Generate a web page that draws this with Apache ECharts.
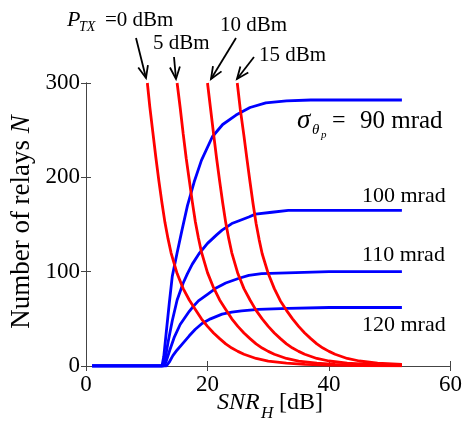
<!DOCTYPE html>
<html>
<head>
<meta charset="utf-8">
<script src="https://cdn.jsdelivr.net/npm/echarts@6/dist/echarts.min.js"></script>
<style>
  html, body { margin: 0; padding: 0; background: #fff; }
  #chart { width: 465px; height: 431px; }
</style>
</head>
<body>
<div id="chart"></div>
<script>
// Axis ticks
const xTickValues = [0, 20, 40, 60];
const yTickValues = [0, 100, 200, 300];

// Relays N vs SNR_H, red family: transmit power P_TX
const powerLabels = ['0 dBm', '5 dBm', '10 dBm', '15 dBm'];
const relaysP0 = [[10.1,300],[10.5,275],[11,248],[11.5,221],[12,196],[12.5,173],[13,152],[13.5,135],[14,120],[15,98],[16,82],[17,70],[18,60],[19,50],[20,42],[21,35],[22,29],[23,23.5],[24,19],[25,15.5],[26,12.5],[28,8],[30,5.2],[33,3],[36,1.8],[40,1],[45,0.5],[52,0.2]];
const relaysP5 = [[15,300],[15.5,274],[16,246],[16.5,220],[17,197],[17.5,174],[18,153],[18.5,136],[19,121],[20,99],[21,83],[22,70],[23,60],[24,50],[25,42],[26,35],[27,29],[28,23.5],[29,19],[30,15.5],[31,12.5],[33,8],[35,5.2],[38,3],[41,1.8],[45,1],[52,0.4]];
const relaysP10 = [[20,300],[20.5,273],[21,246],[21.5,220],[22,196],[22.5,173],[23,152],[23.5,135],[24,120],[25,98],[26,82],[27,70],[28,59],[29,50],[30,42],[31,35],[32,29],[33,23.5],[34,19],[35,15.5],[36,12.5],[38,8],[40,5.3],[43,3],[46,1.9],[52,0.9]];
const relaysP15 = [[24.9,300],[25.4,272],[26,244],[26.5,219],[27,195],[27.5,172],[28,151],[28.5,134],[29,119],[30,98],[31,82],[32,69],[33,59],[34,50],[35,42],[36,35],[37,29],[38,23.5],[39,19],[40,15.5],[41,12.5],[43,8],[45,5.3],[48,3],[52,1.8]];

// Blue family: pointing error sigma (mrad)
const sigmaLabels = ['90 mrad', '100 mrad', '110 mrad', '120 mrad'];
const relaysS90 = [[1,0],[12.5,0],[12.8,10],[13.2,35],[13.7,66],[14.2,95],[15,120],[15.8,144],[16.7,170],[17.8,195],[19,218],[20.8,243],[22.5,256],[24.7,266],[27,274],[29.6,279],[33,281],[37,282],[52,282]];
const relaysS100 = [[1,0],[12.6,0],[13,6],[13.5,25],[14.2,48],[15,70],[16,88],[16.7,98],[17.5,108],[18.6,119],[20,130],[21.5,139],[22.4,144],[24,151],[25.2,154],[26.8,158],[27.9,161],[30.6,163],[33.3,165],[52,165]];
const relaysS110 = [[1,0],[12.8,0],[13.2,5],[13.8,17],[14.5,30],[15.5,44],[17,58],[17.5,62],[18.5,69],[20,76],[21.5,83],[23,88],[25.2,93],[26.8,96],[28.9,98],[34.5,99],[40,100],[52,100]];
const relaysS120 = [[1,0],[13.2,0],[13.7,4],[14.3,11],[15,17],[15.8,23],[17,32],[18,39],[19.1,45],[20.5,50],[22.4,55],[24,57],[25.6,58.5],[28.4,60],[33.3,61],[40,62],[52,62]];

const serif = 'Liberation Serif';
const chart = echarts.init(document.getElementById('chart'), null, { renderer: 'canvas' });

function blueSeries(name, data) {
  return { name, type: 'line', data, symbol: 'none', xAxisIndex: 0, yAxisIndex: 0,
    lineStyle: { color: '#0000ff', width: 2.8 }, z: 2, animation: false };
}
function redSeries(name, data) {
  return { name, type: 'line', data, symbol: 'none',
    xAxisIndex: 0, yAxisIndex: 0, lineStyle: { color: '#ff0000', width: 2.8 }, z: 3, animation: false };
}

// arrow: shaft + open V head
function arrow(x1, y1, x2, y2) {
  const dx = x2 - x1, dy = y2 - y1, len = Math.hypot(dx, dy);
  const ux = dx / len, uy = dy / len, px = -uy, py = ux;
  const L = 12, W = 5;
  return [
    { type: 'line', shape: { x1, y1, x2, y2 }, style: { stroke: '#000', lineWidth: 1.8 } },
    { type: 'polyline', shape: { points: [[x2 - L*ux + W*px, y2 - L*uy + W*py], [x2, y2], [x2 - L*ux - W*px, y2 - L*uy - W*py]] },
      style: { stroke: '#000', lineWidth: 1.8, fill: null } }
  ];
}
function txt(x, y, text, size, italic) {
  const style = { text, fontFamily: serif, fontSize: size, fill: '#000', align: 'left', verticalAlign: 'middle' };
  if (italic) style.fontStyle = 'italic';
  return { type: 'text', x, y, style };
}

const axisLine = { show: true, lineStyle: { color: '#444', width: 1 } };
const tickIn = { show: true, inside: true, length: 5, lineStyle: { color: '#444' } };
const xMin = xTickValues[0], xMax = xTickValues[xTickValues.length - 1];
const yMin = yTickValues[0], yMax = yTickValues[yTickValues.length - 1];

chart.setOption({
  backgroundColor: '#fff',
  animation: false,
  grid: { left: 86, right: 12, top: 83, bottom: 65 },
  xAxis: [
    { type: 'value', min: xMin, max: xMax, interval: xTickValues[1] - xTickValues[0], position: 'bottom',
      axisLine, axisTick: tickIn, splitLine: { show: false },
      axisLabel: { fontFamily: serif, fontSize: 23, color: '#000', margin: 7 } },
    { type: 'value', min: xMin, max: xMax, interval: xTickValues[1] - xTickValues[0], position: 'top',
      axisLine, axisTick: tickIn, splitLine: { show: false }, axisLabel: { show: false } }
  ],
  yAxis: [
    { type: 'value', min: yMin, max: yMax, interval: yTickValues[1] - yTickValues[0], position: 'left',
      axisLine, axisTick: tickIn, splitLine: { show: false },
      axisLabel: { fontFamily: serif, fontSize: 23, color: '#000', margin: 6 } },
    { type: 'value', min: yMin, max: yMax, interval: yTickValues[1] - yTickValues[0], position: 'right',
      axisLine, axisTick: tickIn, splitLine: { show: false }, axisLabel: { show: false } }
  ],
  series: [
    blueSeries(sigmaLabels[0], relaysS90),
    blueSeries(sigmaLabels[1], relaysS100),
    blueSeries(sigmaLabels[2], relaysS110),
    blueSeries(sigmaLabels[3], relaysS120),
    redSeries(powerLabels[0], relaysP0),
    redSeries(powerLabels[1], relaysP5),
    redSeries(powerLabels[2], relaysP10),
    redSeries(powerLabels[3], relaysP15)
  ],
  graphic: [
    // P_TX labels and arrows
    txt(67, 20, 'P', 22, true),
    txt(79, 27, 'TX', 14, true),
    txt(105, 20, '=' + powerLabels[0], 21, false),
    txt(153, 43, powerLabels[1], 21, false),
    txt(220, 25, powerLabels[2], 21, false),
    txt(259, 55, powerLabels[3], 21, false),
    ...arrow(136, 38, 146, 78),
    ...arrow(174, 57, 176, 79),
    ...arrow(236, 38, 211, 79),
    ...arrow(254, 57, 237, 79),
    // sigma labels
    txt(297, 121, 'σ', 27, true),
    txt(312, 130, 'θ', 15, true),
    txt(321, 135, 'p', 11, true),
    txt(332, 121, '=', 24, false),
    txt(360, 121, sigmaLabels[0], 25, false),
    txt(362, 196, sigmaLabels[1], 22, false),
    txt(362, 255, sigmaLabels[2], 22, false),
    txt(362, 325, sigmaLabels[3], 22, false),
    // axis titles
    txt(217, 403, 'SNR', 24, true),
    txt(261, 414, 'H', 17, true),
    txt(279, 403, '[dB]', 24, false),
    { type: 'text', x: 22, y: 222, rotation: Math.PI / 2,
      style: { text: 'Number of relays {i|N}', fontFamily: serif, fontSize: 27, fill: '#000',
        align: 'center', verticalAlign: 'middle',
        rich: { i: { fontFamily: serif, fontSize: 27, fontStyle: 'italic', fill: '#000' } } } }
  ]
});
</script>
</body>
</html>
